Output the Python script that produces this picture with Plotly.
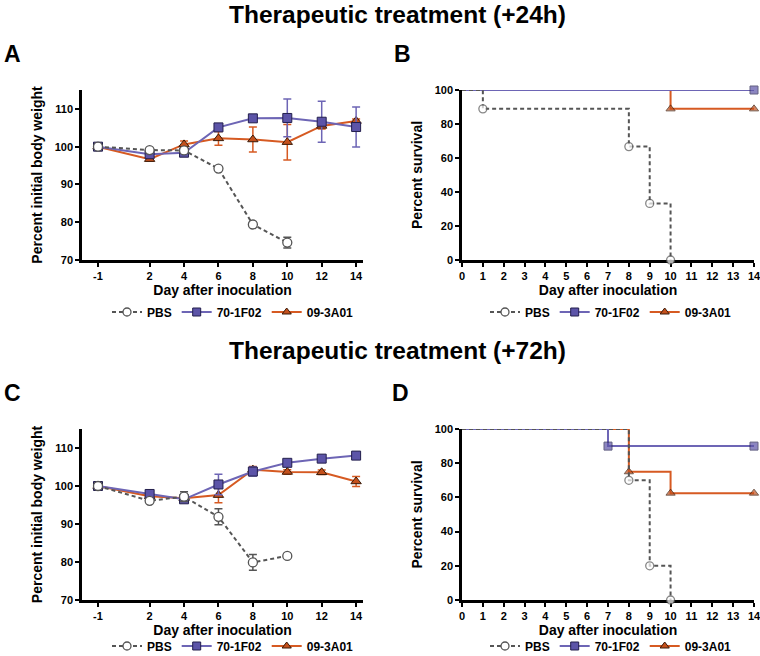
import plotly.graph_objects as go

# ---------------- data ----------------
series_names = ["PBS", "70-1F02", "09-3A01"]

weight_days = [-1, 2, 4, 6, 8, 10, 12, 14]
pbs_days = [-1, 2, 4, 6, 8, 10]

A_pbs = [100, 99.1, 99.0, 94.2, 79.4, 74.6]
A_pbs_err = [0, 0.4, 0.6, 0.5, 0.6, 1.4]
A_70 = [100, 98.0, 98.4, 105.1, 107.5, 107.6, 106.6, 105.2]
A_70_err = [0, 0.8, 0.9, 0.8, 0.8, 5.0, 5.4, 5.3]
A_09 = [100, 96.7, 100.6, 102.2, 101.9, 101.2, 105.5, 106.8]
A_09_err = [0, 0.5, 0.9, 1.8, 3.3, 4.7, 0.8, 0.5]

C_pbs = [100, 96.1, 97.2, 91.9, 79.9, 81.6]
C_pbs_err = [0, 0.5, 1.3, 2.1, 2.1, 0.4]
C_70 = [100, 97.9, 96.5, 100.4, 103.8, 106.1, 107.2, 108.0]
C_70_err = [0, 0.5, 0.8, 2.7, 1.2, 0.6, 0.6, 0.8]
C_09 = [100, 97.3, 96.8, 97.6, 104.3, 103.7, 103.6, 101.2]
C_09_err = [0, 0.5, 0.5, 2.0, 0.8, 0.6, 0.6, 1.3]

B_pbs_days = [0, 1, 8, 9, 10]
B_pbs = [100, 88.9, 66.7, 33.3, 0]
B_70_days = [0, 14]
B_70 = [100, 100]
B_09_days = [0, 10, 14]
B_09 = [100, 88.9, 88.9]

D_pbs_days = [0, 8, 9, 10]
D_pbs = [100, 70, 20, 0]
D_70_days = [0, 7, 14]
D_70 = [100, 90, 90]
D_09_days = [0, 8, 10, 14]
D_09 = [100, 75, 62.5, 62.5]

weight_ticks = [-1, 2, 4, 6, 8, 10, 12, 14]
weight_yticks = [70, 80, 90, 100, 110]
surv_xticks = list(range(0, 15))
surv_yticks = [0, 20, 40, 60, 80, 100]

titles = ["Therapeutic treatment (+24h)", "Therapeutic treatment (+72h)"]
panel_letters = ["A", "B", "C", "D"]

# ---------------- styles ----------------
FONT = "Liberation Sans, Arial, Helvetica, sans-serif"
GRAY = "#555555"
PURPLE_L = "#6d65b5"
PURPLE_M = "#5c54a8"
ORANGE_L = "#d65a22"
ORANGE_M = "#c4501c"

style = {
    "PBS": dict(line=dict(color=GRAY, width=2, dash="4px,3px"),
                marker=dict(symbol="circle", color="white",
                            line=dict(color=GRAY, width=1.3)),
                err=GRAY),
    "70-1F02": dict(line=dict(color=PURPLE_L, width=2),
                    marker=dict(symbol="square", color=PURPLE_M,
                                line=dict(color="#231f4d", width=1)),
                    err=PURPLE_L),
    "09-3A01": dict(line=dict(color=ORANGE_L, width=2),
                    marker=dict(symbol="triangle-up", color=ORANGE_M,
                                line=dict(color="#3a1a08", width=1)),
                    err=ORANGE_L),
}

fig = go.Figure()

def weight_trace(name, x, y, err, xa, ya, size):
    s = style[name]
    m = dict(s["marker"]); m["size"] = size
    return go.Scatter(x=x, y=y, mode="lines+markers", name=name,
                      line=s["line"], marker=m, showlegend=False,
                      error_y=dict(type="data", array=err, visible=True,
                                   color=s["err"], thickness=1.5, width=4),
                      xaxis=xa, yaxis=ya, cliponaxis=False)

def surv_trace(name, x, y, xa, ya, size):
    s = style[name]
    m = dict(s["marker"]); m["size"] = [0] + [size] * (len(x) - 1)
    return go.Scatter(x=x, y=y, mode="lines+markers", name=name,
                      line=dict(s["line"], shape="hv"), marker=m,
                      showlegend=False, xaxis=xa, yaxis=ya, cliponaxis=False)

def legend_proxies(xa, ya, leg, size):
    out = []
    for name in series_names:
        s = style[name]
        m = dict(s["marker"]); m["size"] = size
        out.append(go.Scatter(x=[None], y=[None], mode="lines+markers",
                              name=name, line=s["line"], marker=m,
                              xaxis=xa, yaxis=ya, legend=leg,
                              showlegend=True))
    return out

# Panel A
fig.add_trace(weight_trace("09-3A01", weight_days, A_09, A_09_err, "x", "y", 9))
fig.add_trace(weight_trace("70-1F02", weight_days, A_70, A_70_err, "x", "y", 9))
fig.add_trace(weight_trace("PBS", pbs_days, A_pbs, A_pbs_err, "x", "y", 9))
# Panel B
fig.add_trace(surv_trace("09-3A01", B_09_days, B_09, "x2", "y2", 8))
fig.add_trace(surv_trace("70-1F02", B_70_days, B_70, "x2", "y2", 8))
fig.add_trace(surv_trace("PBS", B_pbs_days, B_pbs, "x2", "y2", 8))
# Panel C
fig.add_trace(weight_trace("09-3A01", weight_days, C_09, C_09_err, "x3", "y3", 9))
fig.add_trace(weight_trace("70-1F02", weight_days, C_70, C_70_err, "x3", "y3", 9))
fig.add_trace(weight_trace("PBS", pbs_days, C_pbs, C_pbs_err, "x3", "y3", 9))
# Panel D
fig.add_trace(surv_trace("09-3A01", D_09_days, D_09, "x4", "y4", 8))
fig.add_trace(surv_trace("70-1F02", D_70_days, D_70, "x4", "y4", 8))
fig.add_trace(surv_trace("PBS", D_pbs_days, D_pbs, "x4", "y4", 8))

for t in legend_proxies("x", "y", "legend", 8):
    fig.add_trace(t)
for t in legend_proxies("x2", "y2", "legend2", 8):
    fig.add_trace(t)
for t in legend_proxies("x3", "y3", "legend3", 8):
    fig.add_trace(t)
for t in legend_proxies("x4", "y4", "legend4", 8):
    fig.add_trace(t)

W, H = 760, 656
def px(x): return x / W
def py(y): return 1 - y / H

tickfont = dict(family=FONT, size=11, color="black", weight="bold")
titlefont = dict(family=FONT, size=14, color="black", weight="bold")

def ax(domain, rng, tickvals, title, anchor, standoff):
    return dict(domain=domain, range=rng, tickvals=tickvals,
                ticktext=[str(v) for v in tickvals],
                showline=True, linewidth=2.5, linecolor="black",
                ticks="outside", ticklen=4, tickwidth=2, tickcolor="black",
                showgrid=False, zeroline=False, tickfont=tickfont,
                ticklabeloverflow="allow",
                title=dict(text=title, font=titlefont, standoff=standoff),
                anchor=anchor, layer="below traces", fixedrange=True)

xw_dom = [px(82), px(363)]
xs_dom = [px(462), px(754)]
y_top = [py(260), py(90)]
y_bot = [py(600), py(429)]

xt = "Day after inoculation"
fig.update_layout(
    width=W, height=H,
    margin=dict(l=0, r=0, t=0, b=0, autoexpand=False),
    paper_bgcolor="white", plot_bgcolor="white",
    xaxis=ax(xw_dom, [-1.93, 14.4], weight_ticks, xt, "y", 2),
    yaxis=ax(y_top, [70, 115], weight_yticks, "Percent initial body weight", "x", 9),
    xaxis2=ax(xs_dom, [0, 14], surv_xticks, xt, "y2", 2),
    yaxis2=ax(y_top, [0, 100], surv_yticks, "Percent survival", "x2", 9),
    xaxis3=ax(xw_dom, [-1.93, 14.4], weight_ticks, xt, "y3", 0),
    yaxis3=ax(y_bot, [70, 115], weight_yticks, "Percent initial body weight", "x3", 9),
    xaxis4=ax(xs_dom, [0, 14], surv_xticks, xt, "y4", 0),
    yaxis4=ax(y_bot, [0, 100], surv_yticks, "Percent survival", "x4", 9),
    showlegend=True,
)

legfont = dict(family=FONT, size=12, color="black", weight="bold")
def leg(x, y):
    return dict(orientation="h", x=x, y=y, xanchor="center", yanchor="middle",
                font=legfont, bgcolor="rgba(0,0,0,0)", itemwidth=30,
                tracegroupgap=0, itemclick=False, itemdoubleclick=False)

fig.update_layout(
    legend=leg(px(233), py(312)),
    legend2=leg(px(611), py(312)),
    legend3=leg(px(233), py(646)),
    legend4=leg(px(611), py(646)),
)

annotations = [
    dict(text=titles[0], x=px(397), y=py(14)),
    dict(text=titles[1], x=px(397), y=py(350)),
]
title_anns = []
for a in annotations:
    title_anns.append(dict(a, xref="paper", yref="paper", showarrow=False,
                           xanchor="center", yanchor="middle",
                           font=dict(family=FONT, size=24.5, color="black",
                                     weight="bold")))
letter_pos = [(2, 54), (392, 54), (2, 393), (390, 393)]
for letter, (lx, ly) in zip(panel_letters, letter_pos):
    title_anns.append(dict(text=letter, x=px(lx), y=py(ly), xref="paper",
                           yref="paper", showarrow=False, xanchor="left",
                           yanchor="middle",
                           font=dict(family=FONT, size=23, color="black",
                                     weight="bold")))
fig.update_layout(annotations=title_anns)

fig.write_html(
    "out.html",
    config={"displayModeBar": False},
    post_script="document.body.style.margin='0';document.body.style.overflow='hidden';",
)
